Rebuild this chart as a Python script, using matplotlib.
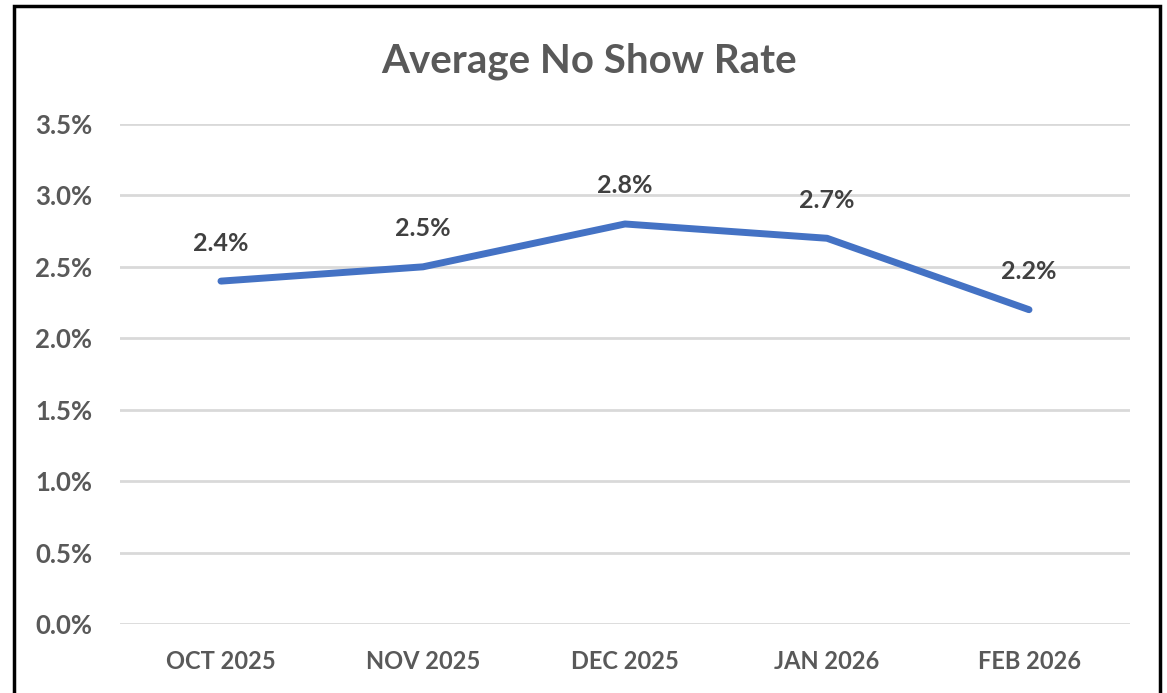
import matplotlib.pyplot as plt
from matplotlib.patches import Rectangle
from matplotlib.ticker import PercentFormatter

months = ['OCT 2025', 'NOV 2025', 'DEC 2025', 'JAN 2026', 'FEB 2026']
no_show_rate = [2.4, 2.5, 2.8, 2.7, 2.2]
y_ticks = [0.0, 0.5, 1.0, 1.5, 2.0, 2.5, 3.0, 3.5]

plt.rcParams['font.family'] = ['Lato', 'DejaVu Sans']

fig = plt.figure(figsize=(11.67, 6.93), dpi=100)
ax = fig.add_axes([0.1028, 0.0996, 0.8655, 0.7215])

x = list(range(len(months)))
ax.plot(x, no_show_rate, color='#4472C4', linewidth=5, solid_capstyle='round', zorder=3)

# data labels above each point
for xi, v in zip(x, no_show_rate):
    ax.annotate(f'{v:.1f}%', (xi, v), xytext=(0, 22), textcoords='offset points',
                ha='center', va='baseline', fontsize=18, fontweight='bold', color='#404040')

ax.set_xlim(-0.5, len(months) - 0.5)
ax.set_ylim(0, 3.5)
ax.set_yticks(y_ticks)
ax.yaxis.set_major_formatter(PercentFormatter(decimals=1))
ax.set_xticks(x)
ax.set_xticklabels(months)
ax.grid(axis='y', color='#D9D9D9', linewidth=2)
ax.set_axisbelow(True)
for s in ax.spines.values():
    s.set_visible(False)
ax.tick_params(length=0, labelcolor='#595959')
ax.tick_params(axis='y', pad=20, labelsize=18.5)
ax.tick_params(axis='x', pad=19, labelsize=17)
for lbl in ax.get_xticklabels() + ax.get_yticklabels():
    lbl.set_fontweight('bold')

fig.text(0.505, 0.912, 'Average No Show Rate', ha='center', va='center',
         fontsize=29, fontweight='bold', color='#595959')

# black frame around the chart (bottom edge cut off as in the screenshot)
fig.patches.append(Rectangle((14 / 1167, -0.05), 1146 / 1167, 1 - 6 / 693 + 0.05,
                             transform=fig.transFigure, fill=False,
                             edgecolor='black', linewidth=2.5))

fig.savefig('out.png', dpi=100)
